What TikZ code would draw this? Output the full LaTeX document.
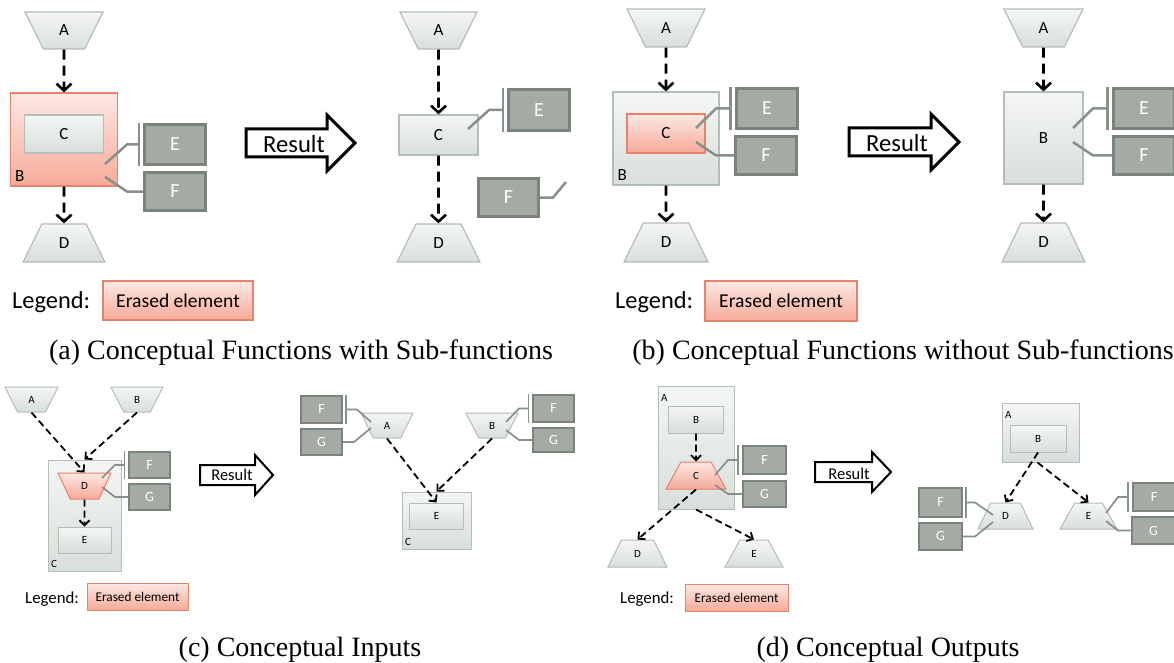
\documentclass[tikz,border=0pt]{standalone}
\usepackage{fontspec}
\setmainfont{Carlito}
\newfontfamily\capfont{Liberation Serif}
\usetikzlibrary{arrows.meta,calc,shapes.geometric}
\definecolor{cftop}{RGB}{244,246,244}
\definecolor{cfbot}{RGB}{216,223,218}
\definecolor{cfline}{RGB}{178,190,182}
\definecolor{cfredtop}{RGB}{253,232,228}
\definecolor{cfredbot}{RGB}{246,170,152}
\definecolor{cfredline}{RGB}{232,130,108}
\definecolor{cfport}{RGB}{163,171,164}
\definecolor{cfportline}{RGB}{122,131,124}
\definecolor{cflink}{RGB}{135,144,138}
\newcommand{\fsz}[1]{\fontsize{#1}{#1}\selectfont}

\begin{document}
\begin{tikzpicture}[x=1pt,y=-1pt,
    fbox/.style={draw=cfline,top color=cftop,bottom color=cfbot,line width=1.2pt,inner sep=0pt,font=\fsz{17}},
    gone/.style={draw=cfredline,top color=cfredtop,bottom color=cfredbot,line width=1.2pt,inner sep=0pt,font=\fsz{17}},
    port/.style={draw=cfportline,fill=cfport,text=white,line width=3pt,inner sep=0pt,font=\fsz{20}},
    funnel/.style={trapezium,trapezium angle=68,trapezium stretches=true,shape border rotate=180},
    hopper/.style={trapezium,trapezium angle=68,trapezium stretches=true},
    cornerlbl/.style={inner sep=5pt,font=\fsz{17}},
    flow/.style={dash pattern=on 10pt off 6pt,line width=2.6pt,-{Straight Barb[length=7pt,width=15pt]}},
    link/.style={draw=cflink,line width=2.5pt},
    legendtxt/.style={anchor=base west,inner sep=0pt,font=\fsz{24.4}},
    restxt/.style={anchor=base,inner sep=0pt,font=\fsz{24.6}},
    resarrow/.style={draw,fill=white,line width=3pt,line join=miter},
    caption/.style={font=\capfont\fsz{28}},
    small/.style={
      fbox/.append style={line width=1pt,font=\fsz{11}},
      gone/.append style={line width=1pt,font=\fsz{11}},
      port/.append style={line width=2pt,font=\fsz{14}},
      cornerlbl/.append style={inner sep=3.5pt,font=\fsz{11}},
      flow/.append style={line width=1.8pt,dash pattern=on 7pt off 4pt,-{Straight Barb[length=5pt,width=10pt]}},
      link/.append style={line width=1.7pt},
      legendtxt/.append style={font=\fsz{16.8}},
      restxt/.append style={font=\fsz{16.5}},
      resarrow/.append style={line width=2pt}}]
  \fill[white] (0,0) rectangle (1174,663);
  \useasboundingbox (0,0) rectangle (1174,663);

  % (a) with sub-functions
  \node[funnel,fbox,minimum width=78pt,minimum height=37pt] (aA) at (64,30.5) {A};
  \node[gone,minimum width=107pt,minimum height=93pt,label={[cornerlbl,anchor=south west]south west:B}] (aB) at (64,139.5) {};
  \node[fbox,minimum width=79pt,minimum height=38pt] (aC) at (64,134) {C};
  \node[port,minimum width=61pt,minimum height=40pt] (aE) at (175,144.5) {E};
  \node[port,minimum width=61pt,minimum height=38pt] (aF) at (175,191.5) {F};
  \node[hopper,fbox,minimum width=82pt,minimum height=38pt] (aD) at (64,243) {D};
  \draw[flow] (aA.south) -- (aB.north);
  \draw[flow] (aB.south) -- (aD.north);
  \draw[link] ($(aB.center)+(41,24.5)$) -- ($(aE.west)+(-16,0)$) -- ([xshift=-4pt]aE.west);
  \draw[link] ([xshift=-4pt]aE.north west) -- ([xshift=-4pt]aE.south west);
  \draw[link] ($(aB.center)+(41,37.5)$) -- ($(aF.west)+(-16,0)$) -- (aF.west);
  \node[legendtxt] (aLeg) at (12,308) {Legend:};
  \node[gone,minimum width=150pt,minimum height=39pt,font=\fsz{19.6}] (aErased) at (178,300.5) {Erased element};

  \draw[resarrow] (246,129) -- (327,129) -- (327,115) -- (355,143) -- (327,171) -- (327,157) -- (246,157) -- cycle;
  \node[restxt] (aRes) at (294,152.5) {Result};

  \node[funnel,fbox,minimum width=77pt,minimum height=37pt] (raA) at (438.5,30.5) {A};
  \node[fbox,minimum width=79pt,minimum height=40pt] (raC) at (438.5,135) {C};
  \node[port,minimum width=61pt,minimum height=41pt] (raE) at (539,110) {E};
  \node[port,minimum width=60pt,minimum height=38pt] (raF) at (508.5,197.5) {F};
  \node[hopper,fbox,minimum width=83pt,minimum height=38pt] (raD) at (438.5,243) {D};
  \coordinate (raFend) at (566,182);
  \draw[flow] (raA.south) -- (raC.north);
  \draw[flow] (raC.south) -- (raD.north);
  \draw[link] ($(raC.center)+(29.5,-6)$) -- ($(raE.west)+(-18,0)$) -- ([xshift=-4pt]raE.west);
  \draw[link] ([xshift=-4pt]raE.north west) -- ([xshift=-4pt]raE.south west);
  \draw[link] (raF.east) -- ++(13,0) -- (raFend);

  % (b) without sub-functions
  \node[funnel,fbox,minimum width=78pt,minimum height=38pt] (bA) at (666,28) {A};
  \node[fbox,minimum width=106pt,minimum height=93pt,label={[cornerlbl,anchor=south west]south west:B}] (bB) at (666,138.5) {};
  \node[gone,minimum width=78pt,minimum height=39pt] (bC) at (666,133.5) {C};
  \node[port,minimum width=61pt,minimum height=40pt] (bE) at (767,108.5) {E};
  \node[port,minimum width=61pt,minimum height=38pt] (bF) at (766,155.5) {F};
  \node[hopper,fbox,minimum width=84pt,minimum height=39pt] (bD) at (666,242.5) {D};
  \draw[flow] (bA.south) -- (bB.north);
  \draw[flow] (bB.south) -- (bD.north);
  \draw[link] ($(bC.center)+(30,-5.5)$) -- ($(bE.west)+(-19,0)$) -- ([xshift=-4.5pt]bE.west);
  \draw[link] ([xshift=-4.5pt]bE.north west) -- ([xshift=-4.5pt]bE.south west);
  \draw[link] ($(bC.center)+(30,8.5)$) -- ($(bF.west)+(-18,0)$) -- (bF.west);
  \node[legendtxt] (bLeg) at (615,308) {Legend:};
  \node[gone,minimum width=152pt,minimum height=40pt,font=\fsz{19.6}] (bErased) at (781,301) {Erased element};

  \draw[resarrow] (849,128) -- (931,128) -- (931,114) -- (959,142) -- (931,170) -- (931,156) -- (849,156) -- cycle;
  \node[restxt] (bRes) at (897,151.5) {Result};

  \node[funnel,fbox,minimum width=79pt,minimum height=38pt] (rbA) at (1043.5,28) {A};
  \node[fbox,minimum width=79pt,minimum height=92pt] (rbB) at (1043.5,138) {B};
  \node[port,minimum width=61pt,minimum height=40pt] (rbE) at (1144,108.5) {E};
  \node[port,minimum width=61pt,minimum height=38pt] (rbF) at (1144,155.5) {F};
  \node[hopper,fbox,minimum width=83pt,minimum height=39pt] (rbD) at (1043.5,242.5) {D};
  \draw[flow] (rbA.south) -- (rbB.north);
  \draw[flow] (rbB.south) -- (rbD.north);
  \draw[link] ($(rbB.center)+(29.5,-10)$) -- ($(rbE.west)+(-19,0)$) -- ([xshift=-4.5pt]rbE.west);
  \draw[link] ([xshift=-4.5pt]rbE.north west) -- ([xshift=-4.5pt]rbE.south west);
  \draw[link] ($(rbB.center)+(29.5,4)$) -- ($(rbF.west)+(-19,0)$) -- (rbF.west);

  \node[caption] (capA) at (301,353) {(a) Conceptual Functions with Sub-functions};
  \node[caption] (capB) at (903,353) {(b) Conceptual Functions without Sub-functions};

  \begin{scope}[small]
    % (c) inputs
    \node[funnel,fbox,minimum width=53pt,minimum height=25pt] (cA) at (31.5,399.5) {A};
    \node[funnel,fbox,minimum width=52pt,minimum height=25pt] (cB) at (137,399.5) {B};
    \node[fbox,minimum width=73pt,minimum height=111pt,label={[cornerlbl,anchor=south west]south west:C}] (cC) at (84.5,515.5) {};
    \node[funnel,gone,minimum width=53pt,minimum height=26pt] (cD) at (84.5,486) {D};
    \node[fbox,minimum width=53pt,minimum height=26pt] (cE) at (84.5,540) {E};
    \node[port,minimum width=41pt,minimum height=26pt] (cF) at (149.5,465) {F};
    \node[port,minimum width=41pt,minimum height=26pt] (cG) at (149.5,497) {G};
    \draw[flow] (cA.south) -- (cD.north);
    \draw[flow] (cB.south) -- (cC.north);
    \draw[flow] (cD.south) -- (cE.north);
    \draw[link] ($(cD.center)+(17.5,-8)$) -- ($(cF.west)+(-13,0)$) -- ([xshift=-3.5pt]cF.west);
    \draw[link] ([xshift=-3.5pt]cF.north west) -- ([xshift=-3.5pt]cF.south west);
    \draw[link] ($(cD.center)+(17.5,1)$) -- ($(cG.west)+(-13,0)$) -- (cG.west);
    \node[legendtxt] (cLeg) at (25,603) {Legend:};
    \node[gone,minimum width=101pt,minimum height=27pt,font=\fsz{13.3}] (cErased) at (137.5,596.5) {Erased element};

    \draw[resarrow] (200,465) -- (255,465) -- (255,455) -- (273,475) -- (255,495) -- (255,485) -- (200,485) -- cycle;
    \node[restxt] (cRes) at (232,480.5) {Result};

    \node[funnel,fbox,minimum width=52pt,minimum height=25pt] (rcA) at (387,425.5) {A};
    \node[funnel,fbox,minimum width=52pt,minimum height=25pt] (rcB) at (492,425.5) {B};
    \node[port,minimum width=41pt,minimum height=27pt] (rcFa) at (321.5,409.5) {F};
    \node[port,minimum width=41pt,minimum height=26pt] (rcGa) at (321.5,442) {G};
    \node[port,minimum width=41pt,minimum height=27pt] (rcFb) at (553.5,408.5) {F};
    \node[port,minimum width=41pt,minimum height=24pt] (rcGb) at (553.5,440) {G};
    \node[fbox,minimum width=69pt,minimum height=57pt,label={[cornerlbl,anchor=south west]south west:C}] (rcC) at (436.5,520.5) {};
    \node[fbox,minimum width=54pt,minimum height=26pt] (rcE) at (436.5,516) {E};
    \draw[flow] (rcA.south) -- (rcE.north);
    \draw[flow] (rcB.south) -- (rcC.north);
    \draw[link] ($(rcA.center)+(-16,-3.5)$) -- ($(rcFa.east)+(14,0)$) -- ([xshift=3pt]rcFa.east);
    \draw[link] ([xshift=3pt]rcFa.north east) -- ([xshift=3pt]rcFa.south east);
    \draw[link] ($(rcA.center)+(-16,2.5)$) -- ($(rcGa.east)+(11,0)$) -- (rcGa.east);
    \draw[link] ($(rcB.center)+(14,-3.5)$) -- ($(rcFb.west)+(-13,0)$) -- ([xshift=-3.5pt]rcFb.west);
    \draw[link] ([xshift=-3.5pt]rcFb.north west) -- ([xshift=-3.5pt]rcFb.south west);
    \draw[link] ($(rcB.center)+(14,4.5)$) -- ($(rcGb.west)+(-13,0)$) -- (rcGb.west);

    % (d) outputs
    \node[fbox,minimum width=76pt,minimum height=123pt,label={[cornerlbl,anchor=north west,yshift=-5pt]north west:A}] (dA) at (696,447.5) {};
    \node[fbox,minimum width=55pt,minimum height=27pt] (dB) at (696,419.5) {B};
    \node[hopper,gone,minimum width=60pt,minimum height=27pt] (dC) at (696,475.5) {C};
    \node[port,minimum width=43pt,minimum height=28pt] (dF) at (764.5,460) {F};
    \node[port,minimum width=43pt,minimum height=26pt] (dG) at (764.5,494) {G};
    \node[hopper,fbox,minimum width=59pt,minimum height=27pt] (dD) at (637.5,553.5) {D};
    \node[hopper,fbox,minimum width=58pt,minimum height=27pt] (dE) at (754,553.5) {E};
    \draw[flow] (dB.south) -- (dC.north);
    \draw[flow] (dC.south) -- (dD.north);
    \draw[flow] (dA.south) -- (dE.north);
    \draw[link] ($(dC.center)+(19,-0.5)$) -- ($(dF.west)+(-14,0)$) -- ([xshift=-4pt]dF.west);
    \draw[link] ([xshift=-4pt]dF.north west) -- ([xshift=-4pt]dF.south west);
    \draw[link] ($(dC.center)+(19,9.5)$) -- ($(dG.west)+(-14,0)$) -- (dG.west);
    \node[legendtxt] (dLeg) at (620,603) {Legend:};
    \node[gone,minimum width=103pt,minimum height=27pt,font=\fsz{13.3}] (dErased) at (736.5,597.5) {Erased element};

    \draw[resarrow] (815,462) -- (872,462) -- (872,452) -- (891,472) -- (872,492) -- (872,482) -- (815,482) -- cycle;
    \node[restxt] (dRes) at (849,479) {Result};

    \node[fbox,minimum width=77pt,minimum height=59pt,label={[cornerlbl,anchor=north west,yshift=-5pt]north west:A}] (rdA) at (1040.5,432.5) {};
    \node[fbox,minimum width=56pt,minimum height=27pt] (rdB) at (1038,438.5) {B};
    \node[hopper,fbox,minimum width=55pt,minimum height=26pt] (rdD) at (1005.5,516) {D};
    \node[hopper,fbox,minimum width=57pt,minimum height=26pt] (rdE) at (1088.5,516) {E};
    \node[port,minimum width=43pt,minimum height=29pt] (rdFa) at (940.5,502.5) {F};
    \node[port,minimum width=43pt,minimum height=27pt] (rdGa) at (940.5,536.5) {G};
    \node[port,minimum width=42pt,minimum height=28pt] (rdFb) at (1154,497) {F};
    \node[port,minimum width=43pt,minimum height=27pt] (rdGb) at (1153.5,530.5) {G};
    \draw[flow] (rdB.south) -- (rdD.north);
    \draw[flow] ([xshift=-3pt]rdA.south) -- (rdE.north);
    \draw[link] ($(rdD.center)+(-12.5,-1)$) -- ($(rdFa.east)+(12,0)$) -- ([xshift=3pt]rdFa.east);
    \draw[link] ([xshift=3pt]rdFa.north east) -- ([xshift=3pt]rdFa.south east);
    \draw[link] ($(rdD.center)+(-12.5,6)$) -- ($(rdGa.east)+(12,0)$) -- (rdGa.east);
    \draw[link] ($(rdE.center)+(17.5,-3)$) -- ($(rdFb.west)+(-14,0)$) -- ([xshift=-4pt]rdFb.west);
    \draw[link] ([xshift=-4pt]rdFb.north west) -- ([xshift=-4pt]rdFb.south west);
    \draw[link] ($(rdE.center)+(17.5,5)$) -- ($(rdGb.west)+(-13,0)$) -- (rdGb.west);
  \end{scope}

  \node[caption] (capC) at (300,650) {(c) Conceptual Inputs};
  \node[caption] (capD) at (888,650) {(d) Conceptual Outputs};
\end{tikzpicture}
\end{document}
